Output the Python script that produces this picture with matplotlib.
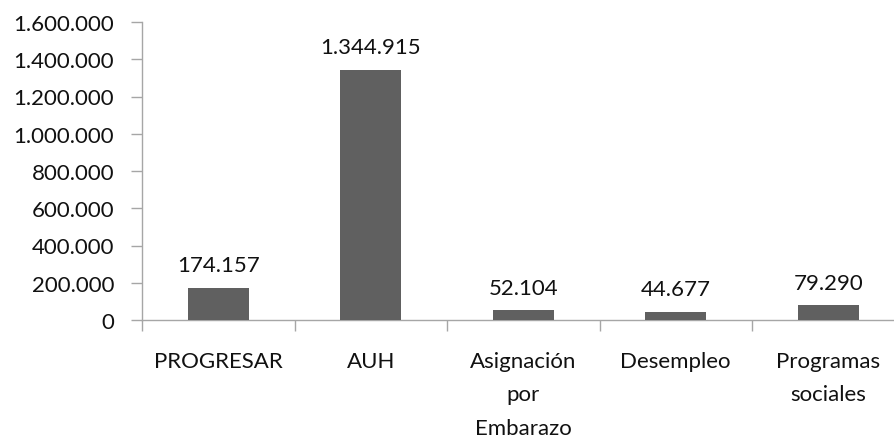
import matplotlib
matplotlib.use('Agg')
import matplotlib.pyplot as plt
from matplotlib.ticker import FuncFormatter, FixedLocator, NullFormatter

# data
categorias = ["PROGRESAR", "AUH", "Asignación\npor\nEmbarazo", "Desempleo", "Programas\nsociales"]
valores = [174157, 1344915, 52104, 44677, 79290]
y_ticks = [0, 200000, 400000, 600000, 800000, 1000000, 1200000, 1400000, 1600000]


def miles(v, pos=None):
    # thousands separator with dots
    return f"{int(v):,}".replace(",", ".")


plt.rcParams['font.family'] = ['Lato', 'DejaVu Sans']
plt.rcParams['font.size'] = 16

fig = plt.figure(figsize=(8.95, 4.39), dpi=100)
ax = fig.add_axes([142 / 895, 1 - 321 / 439, 1 - 142 / 895, 298 / 439])

gris = '#a6a6a6'
x = range(len(categorias))
ax.bar(x, valores, width=0.4, color='#606060', zorder=3)

for i, v in zip(x, valores):
    ax.annotate(miles(v), (i, v), xytext=(0, 9), textcoords='offset points',
                ha='center', va='bottom', fontsize=16, color='#111111')

ax.set_ylim(0, 1600000)
ax.set_xlim(-0.5, -0.5 + 753 / 152.5)
ax.set_yticks(y_ticks)
ax.yaxis.set_major_formatter(FuncFormatter(miles))

# category boundaries get the tick marks, labels sit in the middle
ax.xaxis.set_major_locator(FixedLocator([i - 0.5 for i in range(len(categorias) + 1)]))
ax.xaxis.set_major_formatter(NullFormatter())
ax.xaxis.set_minor_locator(FixedLocator(list(x)))
ax.set_xticklabels(categorias, minor=True, linespacing=1.85, va='top')
ax.tick_params(axis='x', which='major', length=8, color=gris, width=1)
ax.tick_params(axis='x', which='minor', length=0, pad=22, labelsize=16, labelcolor='#111111')
ax.tick_params(axis='y', length=8, color=gris, width=1, pad=12, labelsize=16, labelcolor='#111111')

for s in ['top', 'right']:
    ax.spines[s].set_visible(False)
for s in ['left', 'bottom']:
    ax.spines[s].set_color(gris)
    ax.spines[s].set_linewidth(1)

fig.savefig('out.png', dpi=100)
